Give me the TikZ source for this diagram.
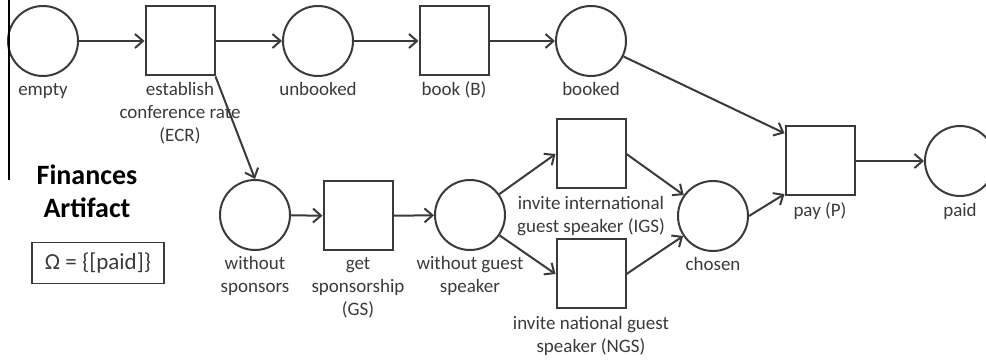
\documentclass[tikz,border=0pt]{standalone}
\usepackage{fontspec}
\setmainfont{Carlito}
\usepackage{tikz}
\usetikzlibrary{arrows.meta,positioning}
\definecolor{netgray}{HTML}{3A3A3A}

\tikzset{
  placecirc/.style={circle, draw=netgray, line width=2pt, minimum size=70pt, inner sep=0pt},
  transbox/.style={rectangle, draw=netgray, line width=2pt, minimum size=69pt, inner sep=0pt},
  lbl/.style={anchor=base, align=center, inner sep=0pt, text=netgray,
    font=\fontsize{19}{23}\selectfont},
  flow/.style={draw=netgray, line width=2pt, -{Straight Barb[length=8pt,width=14pt]}},
}

\begin{document}
\begin{tikzpicture}[x=1pt,y=-1pt]
    \useasboundingbox (0,0) rectangle (986,363);
    \clip (0,0) rectangle (986,363);
    % upper row
    \node[placecirc] (empty) at (43,41) {};
    \node[transbox] (ECR) at (180,41) {};
    \node[placecirc] (unbooked) at (318,41) {};
    \node[transbox] (B) at (454,41) {};
    \node[placecirc] (booked) at (591,41) {};
    \node[transbox] (P) at (820,161) {};
    \node[placecirc] (paid) at (960,161) {};
    % lower row
    \node[placecirc] (nosponsor) at (255,215) {};
    \node[transbox] (GS) at (358,216) {};
    \node[placecirc] (noguest) at (470,215) {};
    \node[transbox] (IGS) at (591,154) {};
    \node[transbox] (NGS) at (591,274) {};
    \node[placecirc] (chosen) at (713,216) {};
    % labels (anchored at the baseline of the last line)
    \node[lbl] (lempty) at (43,96) {empty};
    \node[lbl] (lECR) at (180,142) {establish\\conference rate\\(ECR)};
    \node[lbl] (lunbooked) at (318,96) {unbooked};
    \node[lbl] (lB) at (454,96) {book (B)};
    \node[lbl] (lbooked) at (591,96) {booked};
    \node[lbl] (lnosponsor) at (255,293) {without\\sponsors};
    \node[lbl] (lGS) at (358,316) {get\\sponsorship\\(GS)};
    \node[lbl] (lnoguest) at (470,293) {without guest\\speaker};
    \node[lbl] (lIGS) at (591,233) {invite international\\guest speaker (IGS)};
    \node[lbl] (lNGS) at (591,353) {invite national guest\\speaker (NGS)};
    \node[lbl] (lchosen) at (713,271) {chosen};
    \node[lbl] (lP) at (820,217) {pay (P)};
    \node[lbl] (lpaid) at (960,217) {paid};
    % artifact name and goal
    \draw[line width=1.2pt] (9,0) -- (9,180);
    \node[anchor=base, align=center, inner sep=0pt, font=\bfseries\fontsize{28}{33}\selectfont]
      (title) at (87,218) {Finances\\Artifact};
    \node[draw=netgray, line width=1.5pt, minimum width=132pt, minimum height=41pt,
      inner sep=0pt, text=netgray, font=\fontsize{23}{27}\selectfont]
      (goal) at (98,263) {Ω = \{[paid]\}};
    % arcs
    \draw[flow] (empty) -- (ECR);
    \draw[flow] (ECR) -- (unbooked);
    \draw[flow] (unbooked) -- (B);
    \draw[flow] (B) -- (booked);
    \draw[flow] (booked) -- (P.142);
    \draw[flow] (ECR.south east) -- (nosponsor.north);
    \draw[flow] (nosponsor) -- (GS);
    \draw[flow] (GS) -- (noguest);
    \draw[flow] (noguest) -- (IGS.west);
    \draw[flow] (noguest) -- (NGS.west);
    \draw[flow] (IGS.east) -- (chosen);
    \draw[flow] (NGS.east) -- (chosen);
    \draw[flow] (chosen.east) -- (P.223);
    \draw[flow] (P) -- (paid);
\end{tikzpicture}
\end{document}
